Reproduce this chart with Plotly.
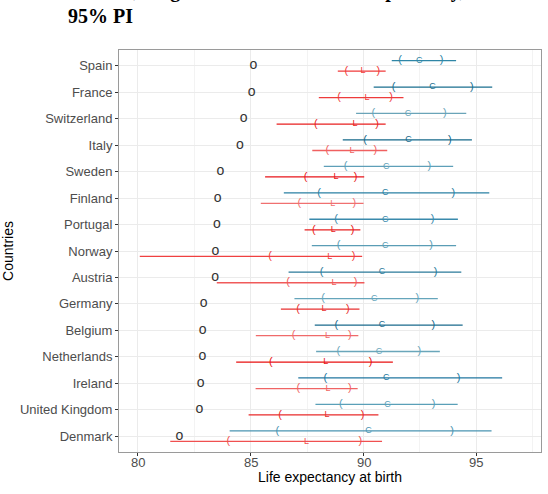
import plotly.graph_objects as go

countries = ["Spain", "France", "Switzerland", "Italy", "Sweden", "Finland", "Portugal",
             "Norway", "Austria", "Germany", "Belgium", "Netherlands", "Ireland",
             "United Kingdom", "Denmark"]
observed = [85.12, 85.04, 84.69, 84.52, 83.66, 83.54, 83.51, 83.44, 83.43, 82.92, 82.87, 82.86, 82.79, 82.73, 81.84]

c_lo95 = [91.25, 90.45, 89.67, 89.08, 88.24, 86.47, 87.60, 87.71, 86.68, 86.94, 87.84, 87.90, 87.11, 87.87, 84.07]
c_lo80 = [91.62, 91.33, 90.44, 90.07, 89.20, 88.03, 88.79, 88.89, 88.14, 88.21, 88.80, 88.88, 88.31, 88.99, 86.18]
c_mid = [92.47, 93.06, 91.97, 91.99, 91.01, 90.96, 90.96, 90.96, 90.82, 90.47, 90.82, 90.69, 91.01, 91.06, 90.22]
c_hi80 = [93.46, 94.80, 93.60, 93.82, 92.92, 93.98, 93.06, 92.99, 93.19, 92.38, 93.09, 92.47, 94.21, 93.10, 93.92]
c_hi95 = [94.10, 95.70, 94.55, 94.80, 93.97, 95.57, 94.18, 94.10, 94.33, 93.29, 94.39, 93.38, 96.14, 94.17, 95.67]

l_lo95 = [88.86, 88.02, 86.15, 87.73, 85.64, 85.45, 87.39, 80.09, 83.50, 86.34, 85.23, 84.36, 85.22, 84.91, 81.44]
l_lo80 = [89.24, 88.92, 87.89, 88.40, 87.43, 87.16, 87.80, 85.86, 86.66, 87.10, 86.90, 85.90, 87.11, 86.31, 84.01]
l_mid = [89.98, 90.15, 89.62, 89.49, 88.78, 88.64, 88.66, 88.50, 88.69, 88.25, 88.40, 88.33, 88.43, 88.38, 87.48]
l_hi80 = [90.66, 91.22, 90.60, 90.52, 89.65, 89.59, 89.51, 89.56, 89.65, 89.31, 89.39, 90.31, 89.39, 89.96, 89.86]
l_hi95 = [90.98, 91.77, 90.98, 91.05, 90.03, 90.00, 89.86, 89.94, 90.04, 89.82, 89.77, 91.30, 89.74, 90.66, 90.82]

x_ticks = [80, 85, 90, 95]
x_tick_labels = ["80", "85", "90", "95"]

blue_cols = ["#2f86a6", "#1a6f8f", "#6aa4b8", "#15688a", "#5e9fb8", "#2a80a3", "#3a8aac",
             "#5a9db5", "#2a7a9a", "#65a5bb", "#1a6a8c", "#6aa6ba", "#2277a0", "#5aa0b8", "#4a94b2"]
red_cols = ["#f03a3a", "#ee3b3b", "#e81f1f", "#f06060", "#e8141a", "#f07070", "#e82020",
            "#f04040", "#f05a5a", "#e83030", "#f06a6a", "#e81010", "#f06464", "#e82a2a", "#f05050"]

n = len(countries)
ypos = [n - i for i in range(n)]  # Spain top
OFF = 0.2
FONT = "Liberation Sans, Arial, sans-serif"

fig = go.Figure()

for i in range(n):
    yb = ypos[i] + OFF
    yr = ypos[i] - OFF
    fig.add_trace(go.Scatter(x=[c_lo95[i], c_hi95[i]], y=[yb, yb], mode="lines",
                             line=dict(color=blue_cols[i], width=1.3), showlegend=False, hoverinfo="skip"))
    fig.add_trace(go.Scatter(x=[c_lo80[i], c_mid[i], c_hi80[i]], y=[yb, yb, yb], mode="text",
                             text=["(", "C", ")"], textposition="middle center",
                             textfont=dict(color=blue_cols[i], size=[11, 9, 11], family=FONT),
                             showlegend=False, hoverinfo="skip"))
    fig.add_trace(go.Scatter(x=[l_lo95[i], l_hi95[i]], y=[yr, yr], mode="lines",
                             line=dict(color=red_cols[i], width=1.3), showlegend=False, hoverinfo="skip"))
    fig.add_trace(go.Scatter(x=[l_lo80[i], l_mid[i], l_hi80[i]], y=[yr, yr, yr], mode="text",
                             text=["(", "L", ")"], textposition="middle center",
                             textfont=dict(color=red_cols[i], size=[11, 9, 11], family=FONT),
                             showlegend=False, hoverinfo="skip"))

fig.add_trace(go.Scatter(x=observed, y=ypos, mode="text", text=["o"] * n,
                         textposition="middle center",
                         textfont=dict(color="#333333", size=14, family=FONT),
                         showlegend=False, hoverinfo="skip"))

annotations = [
    dict(
        text="<b>Women, long-term forecasts of life expectancy, with</b><br><b>95% PI</b>",
        xref="paper", yref="paper", x=(60 - 114) / 428, y=1 + (50 - 29) / 402,
        xanchor="left", yanchor="bottom", align="left", showarrow=False,
        font=dict(family="Liberation Serif, Times New Roman, serif", size=20, color="black"),
    ),
    dict(
        text="Life expectancy at birth",
        xref="paper", yref="paper", x=0.5, y=-(477 - 452) / 402,
        xanchor="center", yanchor="middle", showarrow=False,
        font=dict(size=14, color="black", family=FONT),
    ),
]
for tv, tl in zip(x_ticks, x_tick_labels):
    annotations.append(dict(
        text=tl, xref="x", yref="paper", x=tv, y=-(462 - 452) / 402,
        xanchor="center", yanchor="middle", showarrow=False,
        font=dict(size=13, color="#4d4d4d", family=FONT),
    ))

fig.update_layout(
    width=548, height=494,
    margin=dict(l=114, r=6, t=50, b=42),
    paper_bgcolor="white", plot_bgcolor="white",
    font=dict(family=FONT),
    xaxis=dict(
        range=[79.17, 97.86], tickvals=x_ticks, showticklabels=False,
        showgrid=True, gridcolor="#ebebeb", gridwidth=1,
        minor=dict(tickvals=[82.5, 87.5, 92.5, 97.5], showgrid=True, gridcolor="#f3f3f3", gridwidth=0.6, ticklen=0),
        ticks="outside", ticklen=3, tickcolor="#333333",
        showline=True, linecolor="#9a9a9a", linewidth=1, mirror=True, zeroline=False,
    ),
    yaxis=dict(
        range=[0.4, n + 0.6], tickvals=ypos, ticktext=countries,
        showgrid=True, gridcolor="#ebebeb", gridwidth=1,
        ticks="outside", ticklen=3, tickcolor="#333333",
        tickfont=dict(size=13, color="#4d4d4d"),
        title=dict(text="Countries", font=dict(size=14, color="black"), standoff=4),
        showline=True, linecolor="#9a9a9a", linewidth=1, mirror=True, zeroline=False,
    ),
    annotations=annotations,
)

fig.write_html("out.html")
